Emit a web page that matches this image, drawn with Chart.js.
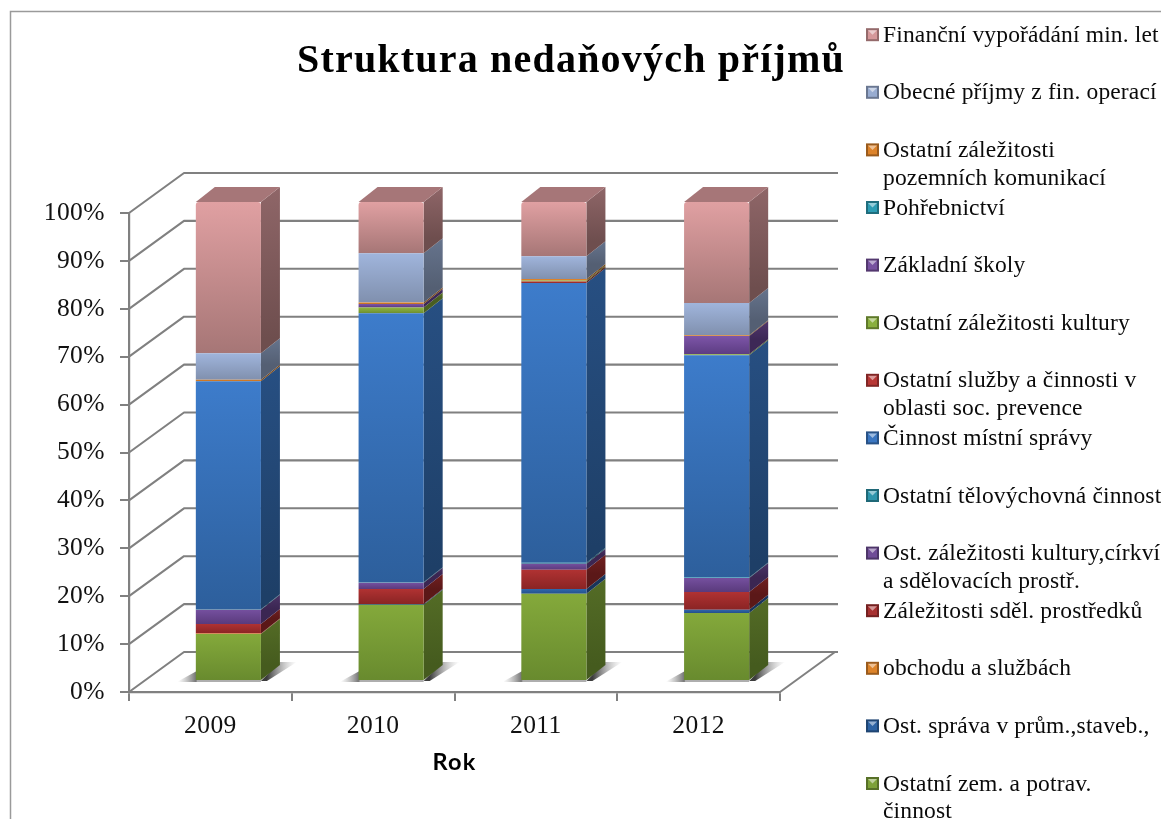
<!DOCTYPE html>
<html><head><meta charset="utf-8">
<style>html,body{margin:0;padding:0;background:#fff}canvas{display:block}</style>
<script src="https://cdn.jsdelivr.net/npm/chart.js@4"></script>
</head><body><div style="width:1161px;height:819px"><canvas id="c" width="1161" height="819"></canvas></div>
<script>
const years = ['2009','2010','2011','2012'];
const titleText = 'Struktura nedaňových příjmů';
const axisTitle = 'Rok';
const yTicksStep = 10;

const zemedelstvi = [9.8,15.9,18.2,14.2];
const spravaPrum  = [0,0.2,1.0,0.7];
const obchod      = [0.1,0,0,0];
const sdelProstr  = [2.0,3.1,4.0,3.7];
const kulturaCirk = [3.0,1.3,1.3,2.9];
const telovychova = [0.1,0.1,0.2,0.1];
const mistniSprava= [47.6,56.2,58.4,46.4];
const socPrevence = [0,0,0.3,0];
const kultura     = [0,1.2,0.2,0.2];
const skoly       = [0,0.7,0,3.8];
const pohrebnictvi= [0,0,0,0];
const komunikace  = [0.3,0.3,0.3,0.2];
const obecne      = [5.5,10.3,4.8,6.7];
const financni    = [31.6,10.7,11.3,21.1];

const seriesValues = [zemedelstvi,spravaPrum,obchod,sdelProstr,kulturaCirk,telovychova,mistniSprava,socPrevence,kultura,skoly,pohrebnictvi,komunikace,obecne,financni];
const seriesNames = [
 ['Ostatní zem. a potrav.','činnost'],
 ['Ost. správa v prům.,staveb.,'],
 ['obchodu a službách'],
 ['Záležitosti sděl. prostředků'],
 ['Ost. záležitosti kultury,církví','a sdělovacích prostř.'],
 ['Ostatní tělovýchovná činnost'],
 ['Činnost místní správy'],
 ['Ostatní služby a činnosti v','oblasti soc. prevence'],
 ['Ostatní záležitosti kultury'],
 ['Základní školy'],
 ['Pohřebnictví'],
 ['Ostatní záležitosti','pozemních komunikací'],
 ['Obecné příjmy z fin. operací'],
 ['Finanční vypořádání min. let']
];
const colorTop = ['#84a93b','#2f68ad','#e98a2c','#b03232','#75509f','#2f9db5','#3d7ccb','#c23a38','#90b840','#7d55a8','#2fa5bd','#e98a2c','#a0b5dc','#e0a0a2'];
const colorBot = ['#688a2e','#24508a','#b86a20','#8a2424','#5a3a7c','#227a8c','#2d5f9c','#8f2826','#6e8e30','#5c3c82','#227a8c','#b86a20','#8090ae','#a67676'];

const DEPTH_X = 19, DEPTH_Y = -15, SHIFT_X = 18, SHIFT_Y = -11, WALL_X = 55, WALL_Y = -40;
const GRID = '#808080';

function shade(hex,f){const n=parseInt(hex.slice(1),16);
  return `rgb(${Math.round((n>>16&255)*f)},${Math.round((n>>8&255)*f)},${Math.round((n&255)*f)})`;}

function frontFill(i){return c=>{
  if(c.dataIndex===undefined) return colorTop[i];
  const y=c.chart.scales.y; let s=0;
  for(let k=0;k<i;k++) s+=seriesValues[k][c.dataIndex];
  const a=y.getPixelForValue(s+seriesValues[i][c.dataIndex]), b=y.getPixelForValue(s);
  if(!isFinite(a)||!isFinite(b)||a===b) return colorTop[i];
  const g=c.chart.ctx.createLinearGradient(0,a,0,b);
  g.addColorStop(0,colorTop[i]);g.addColorStop(1,colorBot[i]);return g;
};}

const scene3d = {
  id:'scene3d',
  beforeDraw(chart){chart.ctx.letterSpacing='1.2px';},
  beforeDatasetsDraw(chart){
    const ctx=chart.ctx,y=chart.scales.y,a=chart.chartArea;
    ctx.save();
    ctx.letterSpacing='0px';
    ctx.strokeStyle='#9a9a9a';ctx.lineWidth=1.5;ctx.beginPath();
    ctx.moveTo(10.5,819);ctx.lineTo(10.5,11.5);ctx.lineTo(1161,11.5);ctx.stroke();
    ctx.strokeStyle=GRID;ctx.lineWidth=2.1;ctx.lineJoin='round';
    y.ticks.forEach(t=>{const p=y.getPixelForValue(t.value);
      ctx.beginPath();ctx.moveTo(a.left,p);ctx.lineTo(a.left+WALL_X,p+WALL_Y);ctx.lineTo(a.right+WALL_X+3,p+WALL_Y);ctx.stroke();});
    const p0=y.getPixelForValue(0);
    ctx.beginPath();ctx.moveTo(a.right+WALL_X,p0+WALL_Y);ctx.lineTo(a.right,p0);ctx.stroke();
    const n=chart.data.datasets.length;
    chart.getDatasetMeta(0).data.forEach(b=>{
      const l=b.x-b.width/2+SHIFT_X,r=b.x+b.width/2+SHIFT_X,bs=b.base+SHIFT_Y;
      let g=ctx.createLinearGradient(l-18,0,l+2,0);
      g.addColorStop(0,'rgba(130,130,130,0)');g.addColorStop(1,'rgba(70,70,70,.85)');
      ctx.fillStyle=g;ctx.beginPath();ctx.moveTo(l-19,bs+2);ctx.lineTo(l+1,bs+2);ctx.lineTo(l+1,bs-9);ctx.closePath();ctx.fill();
      g=ctx.createLinearGradient(r+6,0,r+DEPTH_X+17,0);
      g.addColorStop(0,'rgba(50,50,50,.95)');g.addColorStop(1,'rgba(170,170,170,0)');
      ctx.fillStyle=g;ctx.beginPath();ctx.moveTo(r,bs+1);ctx.lineTo(r+DEPTH_X,bs+DEPTH_Y-3);ctx.lineTo(r+DEPTH_X+17,bs+DEPTH_Y-3);ctx.lineTo(r+6,bs+1);ctx.closePath();ctx.fill();
      ctx.fillStyle='rgba(140,140,140,.7)';ctx.fillRect(l,bs,b.width,2);
    });
    for(let d=0;d<n;d++){
      chart.getDatasetMeta(d).data.forEach(b=>{
        const top=b.y+SHIFT_Y,bot=b.base+SHIFT_Y;
        if(Math.abs(bot-top)<0.05) return;
        const r=b.x+b.width/2+SHIFT_X;
        const g=ctx.createLinearGradient(0,top+DEPTH_Y,0,bot+DEPTH_Y);
        g.addColorStop(0,shade(colorTop[d],0.64));g.addColorStop(1,shade(colorBot[d],0.66));
        ctx.fillStyle=g;ctx.beginPath();ctx.moveTo(r,top);ctx.lineTo(r+DEPTH_X,top+DEPTH_Y);ctx.lineTo(r+DEPTH_X,bot+DEPTH_Y);ctx.lineTo(r,bot);ctx.closePath();ctx.fill();
      });
    }
    chart.getDatasetMeta(n-1).data.forEach(b=>{
      const t=b.y+SHIFT_Y,l=b.x-b.width/2+SHIFT_X,r=b.x+b.width/2+SHIFT_X;
      ctx.fillStyle=shade(colorTop[n-1],0.74);ctx.beginPath();
      ctx.moveTo(l,t);ctx.lineTo(l+DEPTH_X,t+DEPTH_Y);ctx.lineTo(r+DEPTH_X,t+DEPTH_Y);ctx.lineTo(r,t);ctx.closePath();ctx.fill();
    });
    ctx.restore();
    ctx.save();ctx.translate(SHIFT_X,SHIFT_Y);
  },
  afterDatasetsDraw(chart){chart.ctx.restore();chart.ctx.letterSpacing='0.45px';},
  afterDraw(chart){
    const ctx=chart.ctx;ctx.save();
    ctx.font='23.5px "Liberation Serif"';ctx.textBaseline='alphabetic';ctx.textAlign='left';
    ctx.letterSpacing='0.15px';
    for(let k=0;k<seriesNames.length;k++){
      const i=seriesNames.length-1-k, y=41.7+k*57.6, sy=y-13.5, sx=866, s=13;
      ctx.fillStyle=shade(colorTop[i],0.66);ctx.fillRect(sx,sy,s,s);
      ctx.fillStyle=shade(colorTop[i],0.95);ctx.fillRect(sx+2,sy+2,s-4,s-4);
      ctx.fillStyle='rgba(255,255,255,.5)';ctx.beginPath();ctx.moveTo(sx+2,sy+2);ctx.lineTo(sx+s-2,sy+2);ctx.lineTo(sx+s/2,sy+s/2);ctx.closePath();ctx.fill();
      ctx.fillStyle='#0a0a0a';
      seriesNames[i].forEach((t,j)=>ctx.fillText(t,883,y+j*27.6));
    }
    ctx.restore();
  }
};

new Chart(document.getElementById('c'),{
  type:'bar',
  data:{labels:years,datasets:seriesValues.map((v,i)=>({
    label:seriesNames[i].join(' '),data:v,backgroundColor:frontFill(i),borderWidth:0,clip:false,
    borderRadius:i===seriesValues.length-1?{topLeft:3,topRight:3,bottomLeft:0,bottomRight:0}:0,borderSkipped:false,
    barPercentage:0.4,categoryPercentage:1
  }))},
  plugins:[scene3d],
  options:{
    responsive:false,animation:false,
    layout:{padding:{left:0,right:19,top:0,bottom:0}},
    plugins:{
      legend:{display:false},tooltip:{enabled:false},
      title:{display:true,text:titleText,color:'#000',z:-1,
        font:{family:'"Liberation Serif"',size:40,weight:'bold',lineHeight:1.2},
        padding:{top:38,bottom:127}}
    },
    scales:{
      x:{stacked:true,
        grid:{drawOnChartArea:false,color:GRID,lineWidth:2,tickLength:9},
        border:{color:GRID,width:2.2},
        ticks:{z:1,color:'#111',padding:9.5,font:{family:'"Liberation Serif"',size:25.5}},
        title:{display:true,text:axisTitle,color:'#000',padding:{top:12,bottom:42},font:{family:'Lato',size:23.5,weight:'bold'}},
        afterFit(s){s.height=127;}
      },
      y:{stacked:true,min:0,max:100,
        grid:{drawOnChartArea:false,color:GRID,lineWidth:2,tickLength:9},
        border:{color:GRID,width:2.2},
        ticks:{z:1,stepSize:yTicksStep,color:'#111',padding:15,callback:v=>v+'%',font:{family:'"Liberation Serif"',size:25.5}},
        afterFit(s){s.width=129;}
      },
      spacer:{position:'right',display:true,grid:{display:false},border:{display:false},ticks:{display:false},
        afterFit(s){s.width=362;}}
    }
  }
});
</script></body></html>
